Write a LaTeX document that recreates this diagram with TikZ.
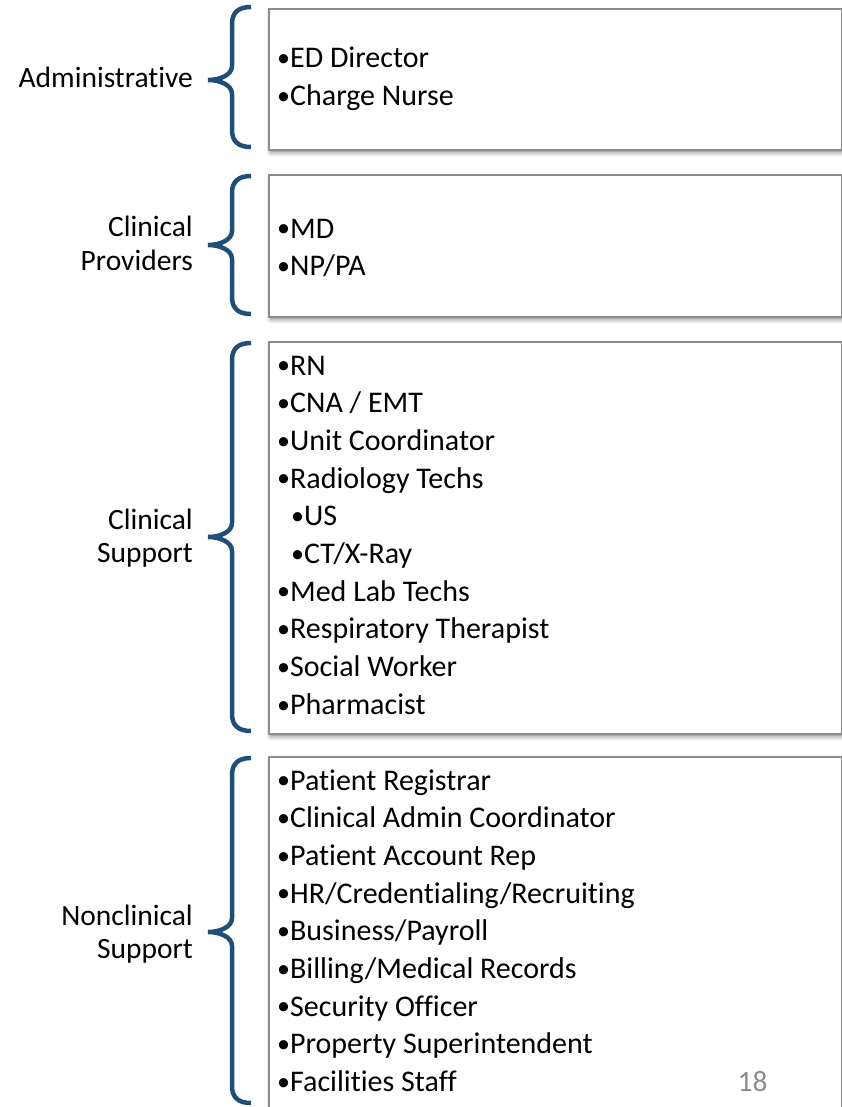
\documentclass[tikz,border=0pt]{standalone}
\usepackage{fontspec}
\setmainfont{Carlito}[Ligatures=NoCommon]
\usetikzlibrary{positioning,shadows.blur}
\definecolor{bracecol}{HTML}{1F4E79}
\definecolor{framecol}{HTML}{8C8C8C}
\definecolor{pagenum}{HTML}{8C8C8C}
\newcommand{\dotmark}{{\fontsize{26}{0}\selectfont\raisebox{0.05em}{•}}}

\begin{document}
\begin{tikzpicture}[
    x=1pt, y=-1pt,
    every node/.style={font=\fontsize{29.5}{37.7}\selectfont, inner sep=0pt},
    group/.style={draw=framecol, line width=1.6pt, fill=white, anchor=north west,
      minimum width=573pt,
      blur shadow={shadow xshift=1.5pt, shadow yshift=-3pt,
        shadow blur radius=4pt, shadow opacity=45}},
    item/.style={anchor=base west, font=\fontsize{30}{37.7}\selectfont},
    role/.style={anchor=east, align=right, font=\fontsize{29.5}{33.5}\selectfont},
    curly/.style={draw=bracecol, line width=4.5pt}
  ]
    \useasboundingbox (0,0) rectangle (842,1107);

    % boxes
    \node[group, minimum height=141pt] (admin) at (268,8) {};
    \node[group, minimum height=142pt] (prov) at (268,174) {};
    \node[group, minimum height=392pt] (csup) at (268,341) {};
    \node[group, minimum height=360pt] (nsup) at (268,756) {};

    % braces
    \foreach \ytop/\ytip/\ybot in {7/80/147, 176/245/314, 343/537/731, 758/932/1103}
      \draw[curly] (251,\ytop) .. controls (239,\ytop) and (232,\ytop+5) .. (232,\ytop+17)
        -- (232,\ytip-14) .. controls (232,\ytip-5) and (220,\ytip) .. (208,\ytip)
        .. controls (220,\ytip) and (232,\ytip+5) .. (232,\ytip+14)
        -- (232,\ybot-17) .. controls (232,\ybot-5) and (239,\ybot) .. (251,\ybot);

    % group names
    \node[role] (admin-name) at (193,77) {Administrative};
    \node[role] (prov-name) at (193,243.4) {Clinical\\Providers};
    \node[role] (csup-name) at (193,538) {Clinical\\Support};
    \node[role] (nsup-name) at (193,934) {Nonclinical\\Support};

    % items
    \foreach \txt [count=\k] in {ED Director, Charge Nurse}
      \node[item] (admin-\k) at ({277},{68+37.7*(\k-1)}) {\dotmark\txt};
    \foreach \txt [count=\k] in {MD, NP/PA}
      \node[item] (prov-\k) at ({277},{238+37.7*(\k-1)}) {\dotmark\txt};
    \foreach \txt [count=\k] in {RN, CNA / EMT, Unit Coordinator, Radiology Techs,
        \hspace*{14pt}\dotmark US, \hspace*{14pt}\dotmark CT/X-Ray, \dotmark Med Lab Techs,
        \dotmark Respiratory Therapist, \dotmark Social Worker, \dotmark Pharmacist}
      \node[item] (csup-\k) at ({277},{375+37.7*(\k-1)}) {\ifnum\k<5 \dotmark\fi\txt};
    \foreach \txt [count=\k] in {Patient Registrar, Clinical Admin Coordinator,
        Patient Account Rep, HR/Credentialing/Recruiting, Business/Payroll,
        Billing/Medical Records, Security Officer, Property Superintendent,
        Facilities Staff}
      \node[item] (nsup-\k) at ({277},{790+37.7*(\k-1)}) {\dotmark\txt};

    \node[anchor=base, text=pagenum] (page) at (752.5,1091) {18};
\end{tikzpicture}
\end{document}
